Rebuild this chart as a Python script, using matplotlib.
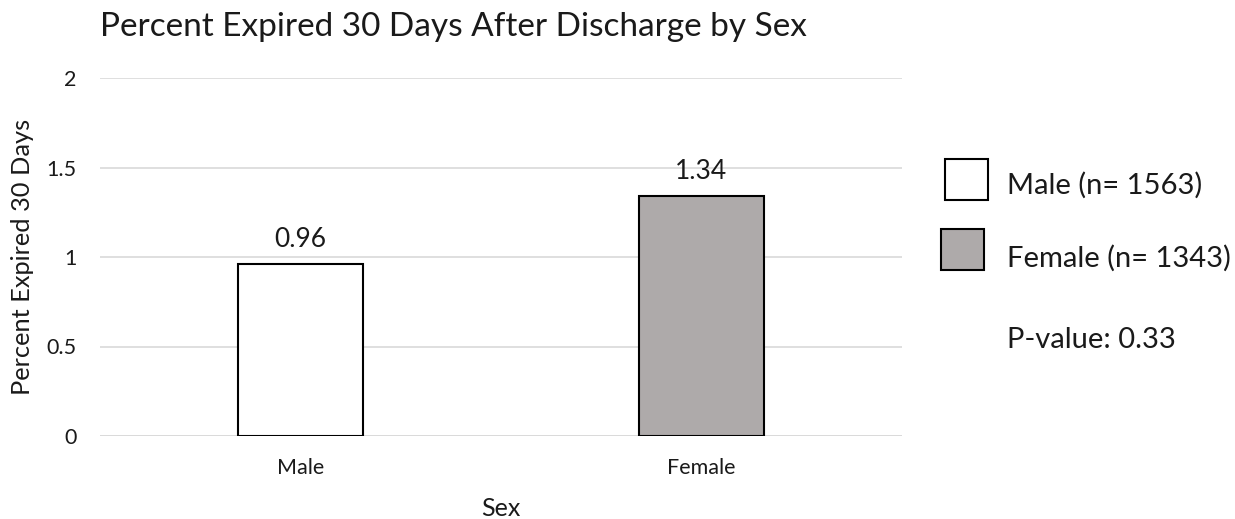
import matplotlib
matplotlib.use("Agg")
import matplotlib.pyplot as plt
from matplotlib.patches import Rectangle

# Data
categories = ["Male", "Female"]
values = [0.96, 1.34]
legend_labels = ["Male (n= 1563)", "Female (n= 1343)"]
p_value_text = "P-value: 0.33"
yticks = [0, 0.5, 1, 1.5, 2]
ytick_labels = ["0", "0.5", "1", "1.5", "2"]

fills = ["#ffffff", "#aeaaaa"]
txt = "#1a1a1a"

plt.rcParams["font.family"] = ["Lato", "DejaVu Sans"]

W, H = 1235, 519
fig = plt.figure(figsize=(W / 100, H / 100), dpi=100)
ax = fig.add_axes([100 / W, 1 - 436 / H, (902 - 100) / W, (436 - 78) / H])

x = list(range(len(categories)))
bars = ax.bar(x, values, width=0.314, color=fills, edgecolor="black",
              linewidth=1.5, zorder=3)
for b, v in zip(bars, values):
    ax.annotate(f"{v:.2f}", (b.get_x() + b.get_width() / 2, v),
                xytext=(0, 9), textcoords="offset points",
                ha="center", va="bottom", fontsize=19, color=txt)

ax.set_xlim(-0.5, 1.5)
ax.set_ylim(0, 2)
ax.set_yticks(yticks)
ax.set_yticklabels(ytick_labels, fontsize=15.5, color=txt)
ax.set_xticks(x)
ax.set_xticklabels(categories, fontsize=15.5, color=txt)
ax.tick_params(axis="y", length=0, pad=17)
ax.tick_params(axis="x", length=0, pad=15.5)
ax.yaxis.grid(True, color="#d9d9d9", linewidth=1.2, zorder=0)
for s in ax.spines.values():
    s.set_visible(False)
ax.axhline(0, color="#d9d9d9", linewidth=1.2, zorder=1)

ax.set_xlabel("Sex", fontsize=18, color=txt, labelpad=14)
ax.set_ylabel("Percent Expired 30 Days", fontsize=18.3, color=txt)
ax.yaxis.set_label_coords((34 - 100) / 802, 0.5)

fig.text(100 / W, 1 - 27 / H, "Percent Expired 30 Days After Discharge by Sex",
         fontsize=24, color=txt, ha="left", va="center")

# Legend boxes and labels
box_specs = [(945, 159, 43, 41), (941, 229, 43, 41)]
text_y = [185, 258]
for (bx, by, bw, bh), fc, lab, ty in zip(box_specs, fills, legend_labels, text_y):
    fig.patches.append(Rectangle((bx / W, 1 - (by + bh) / H), bw / W, bh / H,
                                 transform=fig.transFigure, facecolor=fc,
                                 edgecolor="black", linewidth=1.5))
    fig.text(1007 / W, 1 - ty / H, lab, fontsize=21, color=txt,
             ha="left", va="center")
fig.text(1007 / W, 1 - 340 / H, p_value_text, fontsize=21, color=txt,
         ha="left", va="center")

fig.savefig("out.png", dpi=100)
